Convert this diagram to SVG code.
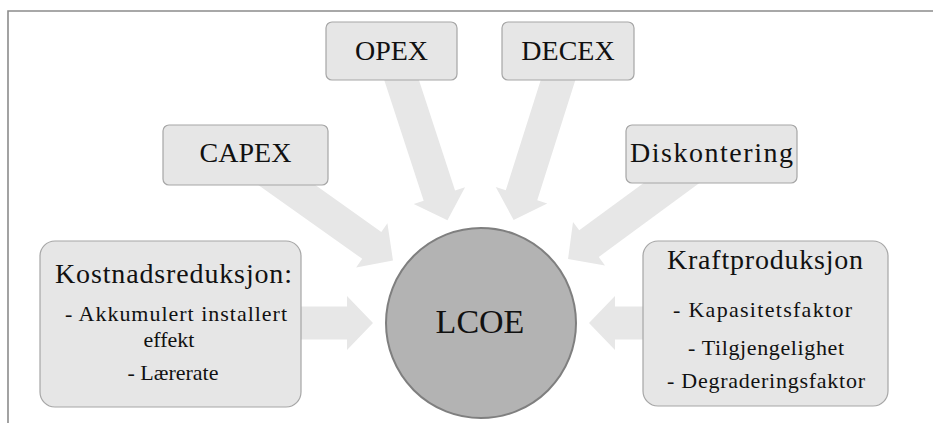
<svg xmlns="http://www.w3.org/2000/svg" width="933" height="423" viewBox="0 0 933 423">
<defs>
<style>
.box{fill:#e6e6e6;stroke:#a6a6a6;stroke-width:1.2}
.arr{fill:#e7e7e7}
.t{font-family:"Liberation Serif","DejaVu Serif",serif;fill:#111;text-anchor:middle}
.big{font-size:28px}
.sm{font-size:22px}
.frame{stroke:#8c8c8c;stroke-width:1.6;fill:none}
</style>
<polygon id="arrow" class="arr" points="-280,-16.5 -134,-16.5 -134,-27 -108,0 -134,27 -134,16.5 -280,16.5"/>
</defs>
<rect width="933" height="423" fill="#fff"/>
<path class="frame" d="M8,423 V11 H933"/>
<g id="connectors" transform="translate(481,323)">
<use href="#arrow" transform="rotate(0)"/>
<use href="#arrow" transform="rotate(35.4)"/>
<use href="#arrow" transform="rotate(71.9)"/>
<use href="#arrow" transform="rotate(107.6)"/>
<use href="#arrow" transform="rotate(143.7)"/>
<use href="#arrow" transform="rotate(180)"/>
</g>
<g id="lcoe">
<circle cx="481" cy="323" r="95" fill="#b3b3b3" stroke="#7f7f7f" stroke-width="2"/>
<text class="t" x="480" y="333" font-size="34">LCOE</text>
</g>
<g id="opex">
<rect class="box" x="326" y="22" width="131" height="58" rx="6"/>
<text class="t big" x="391.5" y="60">OPEX</text>
</g>
<g id="decex">
<rect class="box" x="502" y="22" width="132" height="58" rx="6"/>
<text class="t big" x="568" y="60">DECEX</text>
</g>
<g id="capex">
<rect class="box" x="163" y="125" width="165" height="60" rx="6"/>
<text class="t big" x="245.5" y="162">CAPEX</text>
</g>
<g id="diskontering">
<rect class="box" x="626" y="125" width="171" height="58" rx="6"/>
<text class="t big" x="711.5" y="162" textLength="163" lengthAdjust="spacing">Diskontering</text>
</g>
<g id="kostnadsreduksjon">
<rect class="box" x="40" y="241" width="261" height="166" rx="15"/>
<text class="t big" x="173.5" y="283" textLength="237" lengthAdjust="spacing">Kostnadsreduksjon:</text>
<text class="t sm" x="176" y="321" textLength="222" lengthAdjust="spacing">- Akkumulert installert</text>
<text class="t sm" x="169" y="347">effekt</text>
<text class="t sm" x="173" y="380">- Lærerate</text>
</g>
<g id="kraftproduksjon">
<rect class="box" x="643" y="241" width="245" height="165" rx="15"/>
<text class="t big" x="765" y="269" textLength="196" lengthAdjust="spacing">Kraftproduksjon</text>
<text class="t sm" x="762.5" y="317" textLength="179" lengthAdjust="spacing">- Kapasitetsfaktor</text>
<text class="t sm" x="766" y="355" textLength="156" lengthAdjust="spacing">- Tilgjengelighet</text>
<text class="t sm" x="766" y="388" textLength="198" lengthAdjust="spacing">- Degraderingsfaktor</text>
</g>
</svg>
